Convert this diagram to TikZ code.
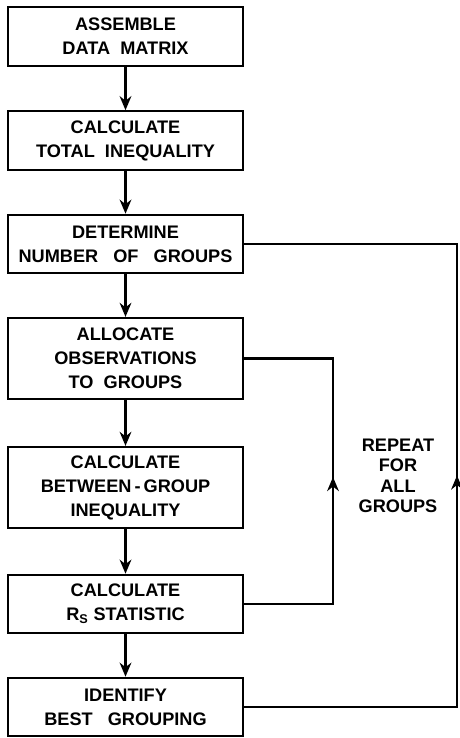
\documentclass[tikz,border=0pt]{standalone}
\usepackage{fontspec}
\setmainfont{Liberation Sans}
\usetikzlibrary{positioning}
\usetikzlibrary{arrows.meta}
\usetikzlibrary{decorations.markings}

\begin{document}
\begin{tikzpicture}[x=0.03cm,y=-0.03cm,
    stepbox/.style={draw, line width=1.9pt, minimum width=7.05cm, align=center,
        font=\bfseries\fontsize{15.5}{20.5}\selectfont},
    short/.style={stepbox, minimum height=1.75cm},
    tall/.style={stepbox, minimum height=2.43cm},
    flow/.style={line width=1.9pt, -{Stealth[length=12pt,width=10pt]}},
    loop/.style={line width=1.9pt, postaction={decorate},
        decoration={markings, mark=at position #1 with {\arrow{Stealth[length=12pt,width=10pt]}}}}]
    \useasboundingbox (0,0) rectangle (460,738);

    % main column of steps
    \node[short] (assemble) at (125.5,36.5) {ASSEMBLE\\DATA\ \ MATRIX};
    \node[short] (total) at (125.5,140.5) {CALCULATE\\TOTAL\ \ INEQUALITY};
    \node[short] (number) at (125.5,244) {DETERMINE\\NUMBER\ \ \ OF\ \ \ GROUPS};
    \node[tall] (allocate) at (125.5,358.5) {ALLOCATE\\OBSERVATIONS\\TO\ \ GROUPS};
    \node[tall] (between) at (125.5,487.5) {CALCULATE\\BETWEEN\,-\,GROUP\\INEQUALITY};
    \node[short] (rstat) at (125.5,604) {CALCULATE\\R\textsubscript{S}\ STATISTIC};
    \node[short] (best) at (125.5,707) {IDENTIFY\\BEST\ \ \ GROUPING};

    \draw[flow] (assemble) -- (total);
    \draw[flow] (total) -- (number);
    \draw[flow] (number) -- (allocate);
    \draw[flow] (allocate) -- (between);
    \draw[flow] (between) -- (rstat);
    \draw[flow] (rstat) -- (best);

    % loops back
    \coordinate (turnA) at (333,358.5);
    \coordinate (turnB) at (457,244);
    \draw[loop=0.51] (rstat.east) -| (turnA) -- (allocate.east);
    \draw[loop=0.5] (best.east) -| (turnB) -- (number.east);

    \node[font=\bfseries\fontsize{15.5}{17.5}\selectfont, align=center] (repeat) at (398,476)
        {REPEAT\\FOR\\ALL\\GROUPS};
\end{tikzpicture}
\end{document}
